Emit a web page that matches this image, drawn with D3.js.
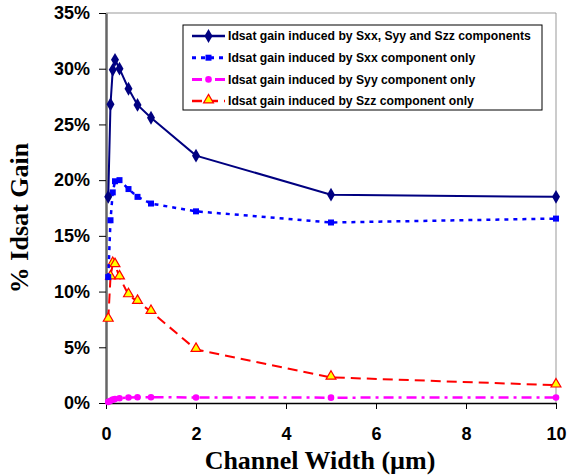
<!DOCTYPE html>
<html>
<head>
    <script src="https://d3js.org/d3.v7.min.js" charset="utf-8"></script>
    <style>
        body { margin: 0; background: #fff; }
        svg { font-family: "Liberation Sans", Arial, sans-serif; }
        .tick text { font-weight: bold; font-size: 18px; fill: #000; }
        .axis-title { font-family: "Liberation Serif", "Times New Roman", serif; font-weight: bold; font-size: 26px; }
        .legend text { font-weight: bold; font-size: 12.2px; }
    </style>
</head>
<body>
<script>
    // channel widths (um)
    var widths = [0.05, 0.1, 0.15, 0.2, 0.3, 0.5, 0.7, 1, 2, 5, 10];
    // Idsat gain (%) per series
    var totalGain = [18.5, 26.8, 29.9, 30.8, 30.0, 28.2, 26.75, 25.6, 22.2, 18.7, 18.5];
    var sxxGain = [11.3, 16.4, 18.9, 19.9, 20.0, 19.2, 18.5, 17.9, 17.2, 16.2, 16.55];
    var syyGain = [0.1, 0.2, 0.3, 0.35, 0.42, 0.5, 0.52, 0.52, 0.5, 0.48, 0.5];
    var szzGain = [7.5, 11.3, 12.5, 12.4, 11.3, 9.7, 9.1, 8.2, 4.8, 2.3, 1.6];
    var seriesNames = [
        "Idsat gain induced by Sxx, Syy and Szz components",
        "Idsat gain induced by Sxx component only",
        "Idsat gain induced by Syy component only",
        "Idsat gain induced by Szz component only"
    ];
    var xTicks = [0, 2, 4, 6, 8, 10];
    var yTicks = [0, 5, 10, 15, 20, 25, 30, 35];

    var width = 569, height = 475;
    var plot = { left: 106, right: 556, top: 13, bottom: 403 };

    var svg = d3.select("body").append("svg")
        .attr("width", width)
        .attr("height", height);

    var x = d3.scaleLinear().domain([0, 10]).range([plot.left, plot.right]);
    var y = d3.scaleLinear().domain([0, 35]).range([plot.bottom, plot.top]);

    // frame: top and right lines
    svg.append("line").attr("x1", plot.left).attr("x2", plot.right).attr("y1", plot.top).attr("y2", plot.top)
        .attr("stroke", "#999").attr("stroke-width", 1);
    svg.append("line").attr("x1", plot.right).attr("x2", plot.right).attr("y1", plot.top).attr("y2", plot.bottom)
        .attr("stroke", "#999").attr("stroke-width", 1);

    var xAxis = svg.append("g")
        .attr("transform", "translate(0," + plot.bottom + ")")
        .call(d3.axisBottom(x).tickValues(xTicks).tickSize(6).tickPadding(18).tickSizeOuter(0));
    xAxis.select(".domain").attr("stroke", "#000").attr("stroke-width", 1.5);

    var yAxis = svg.append("g")
        .attr("transform", "translate(" + plot.left + ",0)")
        .call(d3.axisLeft(y).tickValues(yTicks).tickSize(7).tickPadding(9).tickSizeOuter(0)
            .tickFormat(function (d) { return d + "%"; }));
    yAxis.select(".domain").attr("stroke", "#666").attr("stroke-width", 2.5);

    svg.append("text").attr("class", "axis-title")
        .attr("x", 320).attr("y", 469)
        .attr("text-anchor", "middle")
        .text("Channel Width (\u00b5m)");
    svg.append("text").attr("class", "axis-title")
        .attr("transform", "translate(28,218) rotate(-90)")
        .attr("text-anchor", "middle")
        .text("% Idsat Gain");

    var series = [
        { name: seriesNames[0], values: totalGain, color: "#000080", dash: null, width: 2, marker: "diamond" },
        { name: seriesNames[1], values: sxxGain, color: "#0000ff", dash: "4,5", width: 2.5, marker: "square" },
        { name: seriesNames[2], values: syyGain, color: "#ff00ff", dash: "10,5,3,5", width: 2.5, marker: "circle" },
        { name: seriesNames[3], values: szzGain, color: "#ff0000", dash: "10,6", width: 2, marker: "triangle" }
    ];

    var line = d3.line()
        .x(function (d) { return x(d[0]); })
        .y(function (d) { return y(d[1]); });

    function drawMarker(g, type, color) {
        if (type === "diamond") {
            g.append("path").attr("d", d3.symbol(d3.symbolDiamond, 55)())
                .attr("fill", color);
        } else if (type === "square") {
            g.append("rect").attr("x", -3).attr("y", -3).attr("width", 6).attr("height", 6)
                .attr("fill", color);
        } else if (type === "circle") {
            g.append("circle").attr("r", 3.3).attr("fill", color);
        } else {
            g.append("path").attr("d", d3.symbol(d3.symbolTriangle, 42)())
                .attr("transform", "translate(0,-1)")
                .attr("fill", "#ffff00").attr("stroke", "#ff0000").attr("stroke-width", 1.2);
        }
    }

    // draw in back-to-front order
    [2, 3, 1, 0].forEach(function (i) {
        var s = series[i];
        var pts = widths.map(function (w, j) { return [w, s.values[j]]; });
        svg.append("path").datum(pts)
            .attr("d", line)
            .attr("fill", "none")
            .attr("stroke", s.color)
            .attr("stroke-width", s.width)
            .attr("stroke-dasharray", s.dash);
        pts.forEach(function (p) {
            var g = svg.append("g").attr("transform", "translate(" + x(p[0]) + "," + y(p[1]) + ")");
            drawMarker(g, s.marker, s.color);
        });
    });

    // legend
    var lg = svg.append("g").attr("class", "legend");
    lg.append("rect").attr("x", 183).attr("y", 25).attr("width", 359).attr("height", 85)
        .attr("fill", "#fff").attr("stroke", "#000").attr("stroke-width", 1);
    series.forEach(function (s, i) {
        var ly = 36 + i * 21.7;
        lg.append("line").attr("x1", 192).attr("x2", 225).attr("y1", ly).attr("y2", ly)
            .attr("stroke", s.color).attr("stroke-width", s.width + 0.5)
            .attr("stroke-dasharray", s.dash);
        var g = lg.append("g").attr("transform", "translate(208.5," + ly + ")");
        drawMarker(g, s.marker, s.color);
        lg.append("text").attr("x", 228).attr("y", ly).attr("dy", "0.36em").text(s.name);
    });
</script>
</body>
</html>
